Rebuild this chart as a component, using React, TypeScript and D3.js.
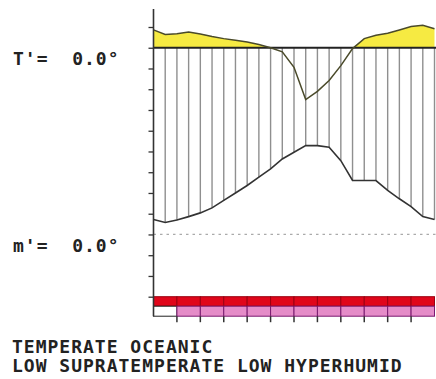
import { useRef, useEffect } from 'react';
import * as d3 from 'd3';

// half-month positions (0 .. 12 months, step 0.5)
const upperCurve = [
  49.3, 48.2, 48.4, 48.8, 48.3, 47.7, 47.2, 46.8, 46.4, 45.8, 45.0, 44.0, 40.3,
  32.5, 34.5, 37.1, 40.7, 44.8, 47.2, 48.0, 48.5, 49.3, 50.1, 50.4, 49.6,
];
const lowerCurve = [
  3.6, 2.9, 3.5, 4.3, 5.2, 6.4, 8.2, 10.0, 11.8, 13.8, 15.8, 18.2, 19.8,
  21.4, 21.4, 21.0, 17.8, 13.0, 13.0, 13.0, 10.6, 8.6, 6.7, 4.3, 3.6,
];
// monthly stripes below the plot (1 = filled)
const redStripe = [1, 1, 1, 1, 1, 1, 1, 1, 1, 1, 1, 1];
const pinkStripe = [0, 1, 1, 1, 1, 1, 1, 1, 1, 1, 1, 1];

const refLevel = 45;   // T' line
const zeroLevel = 0;   // m' line
const yTicks = d3.range(-15, 55, 5);

const labelTop = "T'=  0.0°";
const labelBottom = "m'=  0.0°";
const captionLines = ['TEMPERATE OCEANIC', 'LOW SUPRATEMPERATE LOW HYPERHUMID'];

const W = 436, H = 379;
const FONT = '"DejaVu Sans Mono", monospace';

export default function App() {
  const axisRef = useRef<SVGGElement>(null);

  const x = d3.scaleLinear().domain([0, 12]).range([153.5, 434.5]);
  const y = d3.scaleLinear().domain([-15, 50]).range([296.7, 27]);

  const pts = upperCurve.map((u, i) => ({ m: i / 2, u, l: lowerCurve[i] }));

  const yellow = d3.area<typeof pts[0]>()
    .x(d => x(d.m))
    .y0(y(refLevel))
    .y1(d => y(Math.max(d.u, refLevel)));
  const upperLine = d3.line<typeof pts[0]>().x(d => x(d.m)).y(d => y(d.u));
  const lowerLine = d3.line<typeof pts[0]>().x(d => x(d.m)).y(d => y(d.l));

  const barTop = y(-15);
  const redH = 9.5, pinkH = 10;
  const months = d3.range(12);

  useEffect(() => {
    const g = d3.select(axisRef.current);
    g.selectAll('*').remove();
    g.call(d3.axisLeft(y).tickValues(yTicks).tickSize(5).tickFormat(() => ''));
    g.select('.domain').remove();
    g.selectAll('.tick line').attr('stroke', '#333').attr('stroke-width', 1.3);
  }, []);

  return (
    <svg width={W} height={H} style={{ position: 'absolute', left: 0, top: 0, background: '#fff' }}>
      {/* yellow surplus area */}
      <path d={yellow(pts) || ''} fill="#f6ea42" />

      {/* vertical hatching */}
      {pts.slice(1).map((d, i) => (
        <line key={i} x1={x(d.m)} x2={x(d.m)} y1={y(refLevel)} y2={y(d.l)}
          stroke="#8f8f8f" strokeWidth={1.4} />
      ))}

      {/* reference lines */}
      <line x1={x(0)} x2={W} y1={y(refLevel)} y2={y(refLevel)} stroke="#222" strokeWidth={1.8} />
      <line x1={x(0)} x2={W} y1={y(zeroLevel)} y2={y(zeroLevel)} stroke="#aaa"
        strokeWidth={1.3} strokeDasharray="2.5,4" />

      {/* curves */}
      <path d={upperLine(pts) || ''} fill="none" stroke="#4a4a2a" strokeWidth={1.5} />
      <path d={lowerLine(pts) || ''} fill="none" stroke="#333" strokeWidth={1.6} />

      {/* bottom stripes */}
      {months.map(m => (
        <g key={m}>
          {redStripe[m] ? (
            <rect x={x(m)} y={barTop} width={x(m + 1) - x(m)} height={redH}
              fill="#e0061a" stroke="#9a0010" strokeWidth={1} />
          ) : null}
          {pinkStripe[m] ? (
            <rect x={x(m)} y={barTop + redH} width={x(m + 1) - x(m)} height={pinkH}
              fill="#e58cc8" stroke="#7a1a70" strokeWidth={1} />
          ) : (
            <rect x={x(m)} y={barTop + redH} width={x(m + 1) - x(m)} height={pinkH}
              fill="#fff" stroke="#222" strokeWidth={1} />
          )}
          {m > 0 ? (
            <line x1={x(m)} x2={x(m)} y1={barTop + redH + pinkH} y2={barTop + redH + pinkH + 6}
              stroke="#333" strokeWidth={1.5} />
          ) : null}
        </g>
      ))}

      {/* y axis */}
      <g ref={axisRef} transform={`translate(${x(0)},0)`} />
      <line x1={x(0)} x2={x(0)} y1={9} y2={barTop + redH + pinkH} stroke="#333" strokeWidth={1.6} />

      {/* labels */}
      <g fontFamily={FONT} fontWeight="bold" fontSize={18} fill="#222" letterSpacing={1}>
        <text x={13} y={65} xmlSpace="preserve" style={{ whiteSpace: 'pre' }}>{labelTop}</text>
        <text x={13} y={252} xmlSpace="preserve" style={{ whiteSpace: 'pre' }}>{labelBottom}</text>
        {captionLines.map((t, i) => (
          <text key={i} x={12} y={353 + i * 19}>{t}</text>
        ))}
      </g>
    </svg>
  );
}
